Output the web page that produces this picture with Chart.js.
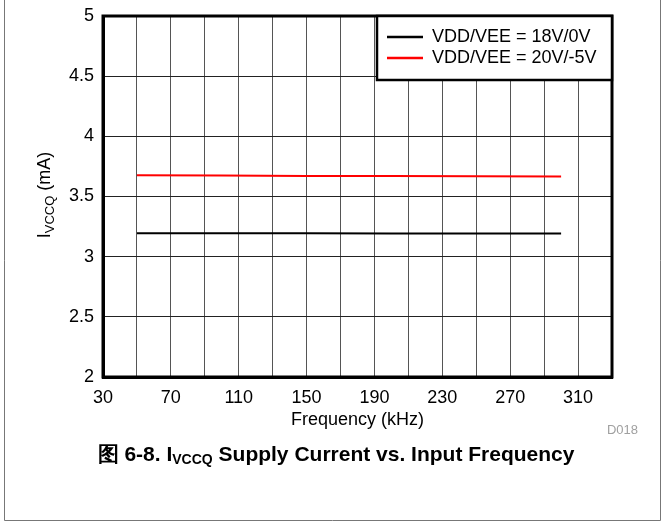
<!DOCTYPE html>
<html>
<head>
<meta charset="utf-8">
<script src="https://cdn.jsdelivr.net/npm/chart.js"></script>
<style>
  html, body { margin: 0; padding: 0; background: #fff; }
  #wrap { position: relative; width: 662px; height: 523px; }
</style>
</head>
<body>
<div id="wrap"><canvas id="chart" width="662" height="523"></canvas></div>
<script>
// Frequenz (kHz) und Versorgungsstrom (mA)
const freq = [50, 100, 150, 200, 250, 300];
const iq18 = [3.195, 3.195, 3.194, 3.192, 3.192, 3.193];
const iq20 = [3.676, 3.674, 3.671, 3.670, 3.668, 3.667];
const seriesLabels = ['VDD/VEE = 18V/0V', 'VDD/VEE = 20V/-5V'];
const xLabels = [30, 70, 110, 150, 190, 230, 270, 310];
const yLabels = [2, 2.5, 3, 3.5, 4, 4.5, 5];

const FONT = '"Liberation Sans", Arial, sans-serif';

// Rahmen, Legende, Achsentitel und Bildunterschrift
const decor = {
  id: 'decor',
  afterDraw(chart) {
    const ctx = chart.ctx;
    const a = chart.chartArea;
    ctx.save();

    // Plotrahmen
    ctx.strokeStyle = '#000';
    ctx.lineWidth = 3;
    ctx.strokeRect(a.left, a.top, a.right - a.left, a.bottom - a.top);

    // Legende
    const lx = 377, ly = a.top, lw = a.right - lx, lh = 64;
    ctx.fillStyle = '#fff';
    ctx.fillRect(lx, ly, lw, lh);
    ctx.lineWidth = 2.5;
    ctx.strokeRect(lx, ly, lw, lh);
    ctx.font = '18px ' + FONT;
    ctx.textBaseline = 'middle';
    chart.data.datasets.forEach((ds, i) => {
      const y = ly + 21 + i * 21;
      ctx.strokeStyle = ds.borderColor;
      ctx.lineWidth = 2.5;
      ctx.beginPath();
      ctx.moveTo(387, y);
      ctx.lineTo(423, y);
      ctx.stroke();
      ctx.fillStyle = '#000';
      ctx.textAlign = 'left';
      ctx.fillText(ds.label, 432, y);
    });

    // X-Achsentitel
    ctx.fillStyle = '#000';
    ctx.font = '18px ' + FONT;
    ctx.textAlign = 'center';
    ctx.fillText('Frequency (kHz)', (a.left + a.right) / 2, 420);

    // Y-Achsentitel mit Index
    ctx.save();
    ctx.translate(45, 195);
    ctx.rotate(-Math.PI / 2);
    const big = '18px ' + FONT, small = '13px ' + FONT;
    ctx.font = big; const w1 = ctx.measureText('I').width;
    const w3 = ctx.measureText(' (mA)').width;
    ctx.font = small; const w2 = ctx.measureText('VCCQ').width;
    let x = -(w1 + w2 + w3) / 2;
    ctx.textAlign = 'left';
    ctx.font = big; ctx.fillText('I', x, 0); x += w1;
    ctx.font = small; ctx.fillText('VCCQ', x, 5); x += w2;
    ctx.font = big; ctx.fillText(' (mA)', x, 0);
    ctx.restore();

    // Kennung
    ctx.fillStyle = '#a0a0a0';
    ctx.font = '13px ' + FONT;
    ctx.textAlign = 'right';
    ctx.fillText('D018', 638, 430);

    // Bildunterschrift
    const cb = 'bold 21px ' + FONT;
    const cs = 'bold 14px ' + FONT;
    const parts = [['图 6-8. I', cb, 0], ['VCCQ', cs, 5], [' Supply Current vs. Input Frequency', cb, 0]];
    let total = 0;
    parts.forEach(p => { ctx.font = p[1]; p.push(ctx.measureText(p[0]).width); total += p[3]; });
    x = 336 - total / 2;
    ctx.fillStyle = '#000';
    ctx.textAlign = 'left';
    parts.forEach(p => { ctx.font = p[1]; ctx.fillText(p[0], x, 455 + p[2]); x += p[3]; });

    // Außenrahmen
    ctx.strokeStyle = '#777';
    ctx.lineWidth = 1;
    ctx.beginPath();
    ctx.moveTo(4.5, 0);
    ctx.lineTo(4.5, 520.5);
    ctx.lineTo(660.5, 520.5);
    ctx.lineTo(660.5, 0);
    ctx.stroke();

    ctx.restore();
  }
};

new Chart(document.getElementById('chart'), {
  type: 'line',
  data: {
    datasets: [
      {
        label: seriesLabels[0],
        data: freq.map((f, i) => ({ x: f, y: iq18[i] })),
        borderColor: '#000000',
        borderWidth: 2,
        pointRadius: 0,
        tension: 0
      },
      {
        label: seriesLabels[1],
        data: freq.map((f, i) => ({ x: f, y: iq20[i] })),
        borderColor: '#ff0000',
        borderWidth: 2,
        pointRadius: 0,
        tension: 0
      }
    ]
  },
  options: {
    responsive: false,
    animation: false,
    events: [],
    layout: { padding: { top: 16, right: 50, bottom: 0, left: 0 } },
    plugins: { legend: { display: false }, tooltip: { enabled: false } },
    scales: {
      x: {
        type: 'linear',
        min: 30,
        max: 330,
        afterFit: s => { s.height = 146; s.paddingLeft = 0; s.paddingRight = 0; },
        afterBuildTicks: s => {
          const t = [];
          for (let v = 30; v <= 330; v += 20) t.push({ value: v });
          s.ticks = t;
        },
        ticks: {
          color: '#000',
          font: { family: FONT, size: 18 },
          padding: 10,
          maxRotation: 0,
          autoSkip: false,
          callback: v => xLabels.includes(v) ? String(v) : ''
        },
        grid: { color: '#555', lineWidth: 1, drawTicks: false },
        border: { display: true, color: '#000', width: 3 }
      },
      y: {
        min: 2,
        max: 5,
        afterFit: s => { s.width = 103; s.paddingTop = 0; s.paddingBottom = 0; },
        afterBuildTicks: s => { s.ticks = yLabels.map(v => ({ value: v })); },
        ticks: {
          color: '#000',
          font: { family: FONT, size: 18 },
          padding: 9,
          callback: v => String(v)
        },
        grid: { color: '#222', lineWidth: 1, drawTicks: false },
        border: { display: true, color: '#000', width: 3 }
      }
    }
  },
  plugins: [decor]
});
</script>
</body>
</html>
